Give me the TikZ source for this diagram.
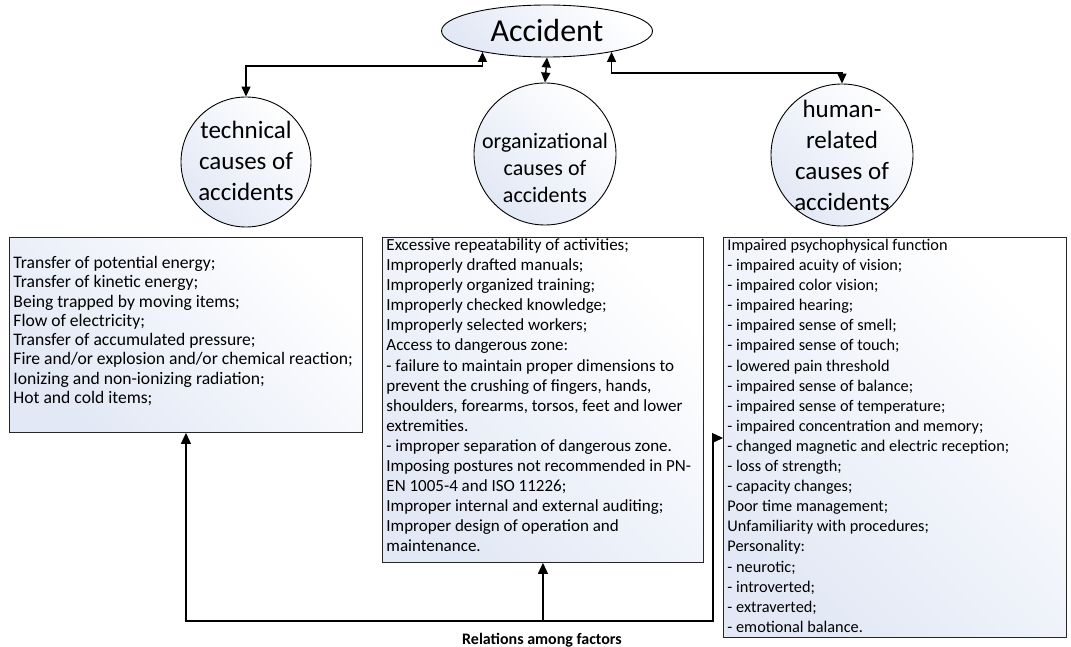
\documentclass[tikz,border=0pt]{standalone}
\usepackage{fontspec}
\setmainfont{Carlito}
\usetikzlibrary{shapes.geometric,arrows.meta}
\definecolor{shadeblue}{RGB}{226,232,245}
\begin{document}
\begin{tikzpicture}[x=1pt,y=-1pt,
  shadefill/.style={top color=white, bottom color=shadeblue, shading angle=-45},
  box/.style={draw=black!85, line width=0.9pt, shadefill, inner xsep=4pt, inner ysep=0pt, anchor=north west},
  causecircle/.style={circle, draw=black, line width=0.9pt, shadefill, inner sep=0pt},
  circtext/.style={align=center, inner sep=0pt},
  conn/.style={line width=1.4pt, draw=black},
  tip/.tip={Triangle[length=10pt,width=9pt]},
  bigtip/.tip={Triangle[length=11pt,width=10pt]}
]
\useasboundingbox (0,0) rectangle (1071,647);

% top ellipse
\node[ellipse, draw=black, line width=0.9pt, shadefill, minimum width=211pt, minimum height=52pt, inner sep=0pt,
  font=\fontsize{32}{36}\selectfont] (acc) at (547,31) {Accident};

% cause circles
\node[causecircle, minimum size=130pt] (tech) at (246,162) {};
\node[circtext, font=\fontsize{25}{31}\selectfont] (techt) at (246,161) {technical\\causes of\\accidents};

\node[causecircle, minimum size=142pt] (org) at (545,154) {};
\node[circtext, font=\fontsize{22}{27}\selectfont] (orgt) at (545,168) {organizational\\causes of\\accidents};

\node[causecircle, minimum size=142pt] (hum) at (842,155) {};
\node[circtext, font=\fontsize{25}{31}\selectfont] (humt) at (842,155) {human-\\related\\causes of\\accidents};

% boxes
\node[box] (tb) at (9,237) {\parbox[c][195pt][t]{345pt}{\raggedright\fontsize{17.6}{19.3}\selectfont
\rule{0pt}{31pt}Transfer of potential energy;\\
Transfer of kinetic energy;\\
Being trapped by moving items;\\
Flow of electricity;\\
Transfer of accumulated pressure;\\
Fire and/or explosion and/or chemical reaction;\\
Ionizing and non-ionizing radiation;\\
Hot and cold items;}};

\node[box] (ob) at (382,237) {\parbox[c][325pt][t]{313pt}{\raggedright\fontsize{17}{20.1}\selectfont
\rule{0pt}{13pt}Excessive repeatability of activities;\\
Improperly drafted manuals;\\
Improperly organized training;\\
Improperly checked knowledge;\\
Improperly selected workers;\\
Access to dangerous zone:\\
- failure to maintain proper dimensions to\\
prevent the crushing of fingers, hands,\\
shoulders, forearms, torsos, feet and lower\\
extremities.\\
- improper separation of dangerous zone.\\
Imposing postures not recommended in PN-\\
EN 1005-4 and ISO 11226;\\
Improper internal and external auditing;\\
Improper design of operation and\\
maintenance.}};

\node[box] (hb) at (723,237) {\parbox[c][400pt][t]{335pt}{\raggedright\fontsize{16.3}{20.1}\selectfont
\rule{0pt}{13pt}Impaired psychophysical function\\
- impaired acuity of vision;\\
- impaired color vision;\\
- impaired hearing;\\
- impaired sense of smell;\\
- impaired sense of touch;\\
- lowered pain threshold\\
- impaired sense of balance;\\
- impaired sense of temperature;\\
- impaired concentration and memory;\\
- changed magnetic and electric reception;\\
- loss of strength;\\
- capacity changes;\\
Poor time management;\\
Unfamiliarity with procedures;\\
Personality:\\
- neurotic;\\
- introverted;\\
- extraverted;\\
- emotional balance.}};

% top connectors
\draw[conn, {tip}-{tip}] (tech.north) -- (tech.north |- 0,66) -| (acc.198);
\draw[conn, {tip}-{tip}] (acc.south) -- (org.north);
\draw[conn, {tip}-{tip}] (acc.342) -- (acc.342 |- 0,73) -| (hum.north);

% bottom connectors
\coordinate (jr) at (713,621);
\draw[conn, {bigtip}-{bigtip}] (tb.south) |- (jr) |- (hb.west |- 0,438);
\draw[conn, -{bigtip}] (ob.south |- jr) -- (ob.south);

\node[anchor=base, inner sep=0pt, font=\bfseries\fontsize{16}{19}\selectfont] (rel) at (542,644) {Relations among factors};
\end{tikzpicture}
\end{document}
